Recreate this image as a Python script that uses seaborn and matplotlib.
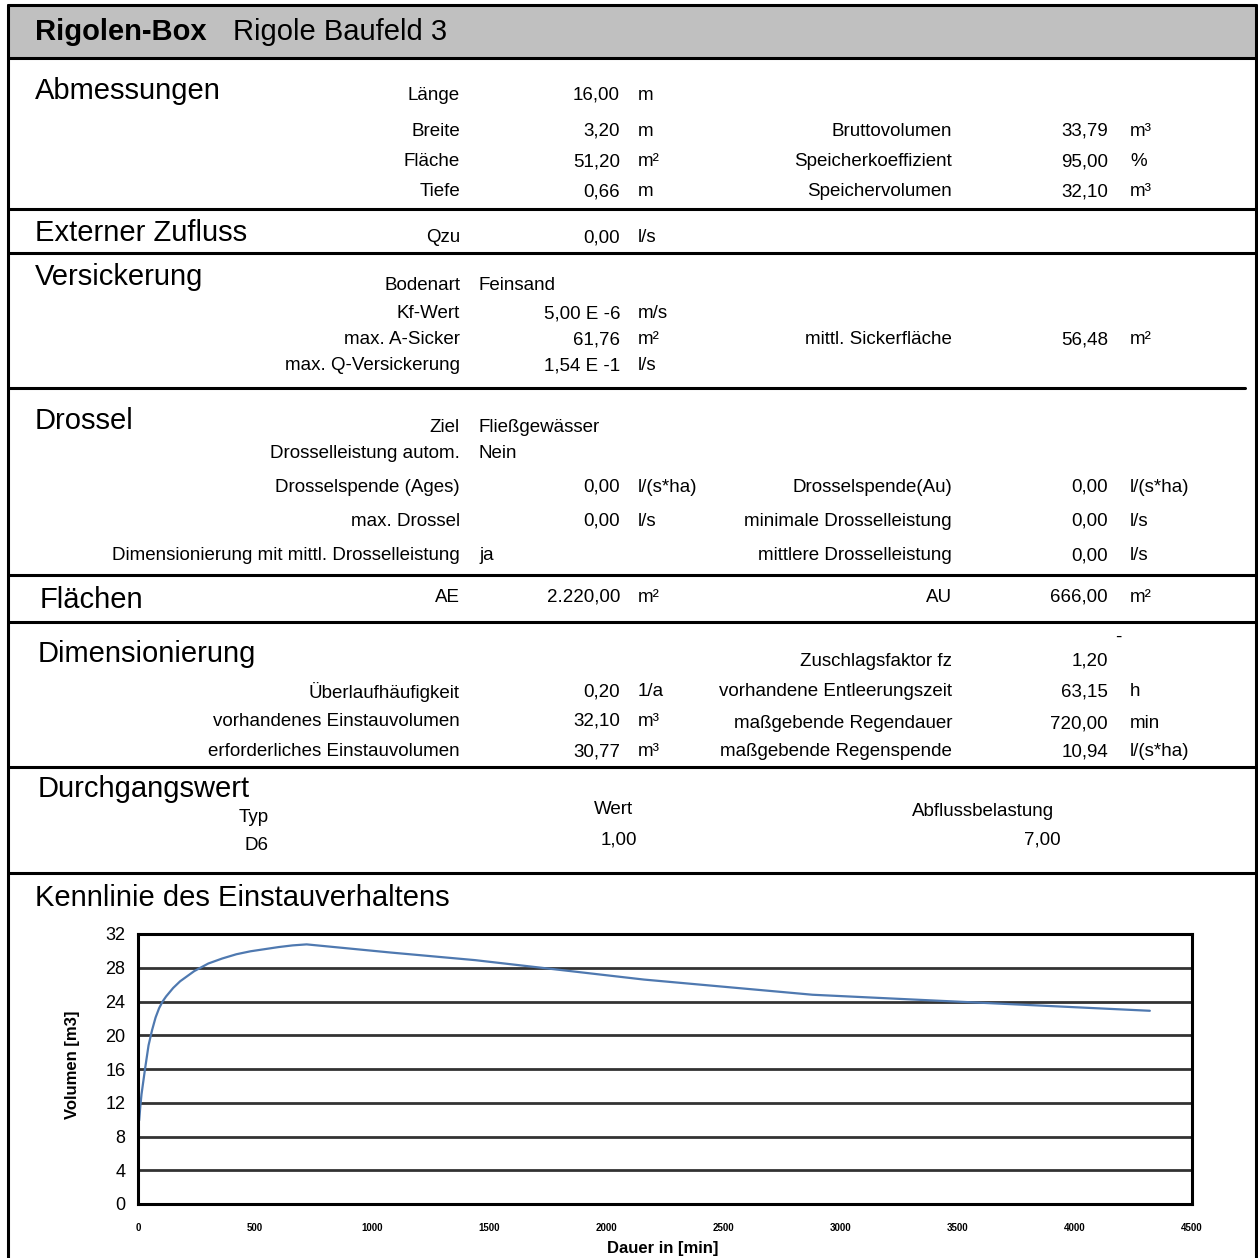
import numpy as np
import matplotlib
matplotlib.use('AGG')
import matplotlib.pyplot as plt
from matplotlib.patches import Rectangle
import seaborn as sns


# ==============================================================================
#                                                                           DATA
# ==============================================================================
# Kennlinie des Einstauverhaltens (Dauer in min, Volumen in m3)
dauer = [5, 10, 15, 20, 30, 45, 60, 75, 90, 105, 120, 150, 180, 240, 300,
         360, 420, 480, 540, 600, 660, 720, 1080, 1440, 2160, 2880, 4320]
volumen = [9.9, 11.6, 13.0, 14.0, 16.0, 18.8, 20.6, 22.1, 23.2, 24.0, 24.6,
           25.6, 26.4, 27.6, 28.5, 29.1, 29.6, 29.95, 30.2, 30.45, 30.65,
           30.77, 29.8, 28.9, 26.6, 24.8, 22.9]
y_ticks = list(range(0, 33, 4))
x_ticks = list(range(0, 4501, 500))

header_bold = "Rigolen-Box"
header_name = "Rigole Baufeld 3"

sections = ["Abmessungen", "Externer Zufluss", "Versickerung", "Drossel",
            "Flächen", "Dimensionierung", "Durchgangswert",
            "Kennlinie des Einstauverhaltens"]

abm_labels = ["Länge", "Breite", "Fläche", "Tiefe"]
abm_values = ["16,00", "3,20", "51,20", "0,66"]
abm_units = ["m", "m", "m²", "m"]
abm_r_labels = ["Bruttovolumen", "Speicherkoeffizient", "Speichervolumen"]
abm_r_values = ["33,79", "95,00", "32,10"]
abm_r_units = ["m³", "%", "m³"]

zu_label, zu_value, zu_unit = "Qzu", "0,00", "l/s"

vs_text_labels = ["Bodenart"]
vs_text_values = ["Feinsand"]
vs_labels = ["Kf-Wert", "max. A-Sicker", "max. Q-Versickerung"]
vs_values = ["5,00 E -6", "61,76", "1,54 E -1"]
vs_units = ["m/s", "m²", "l/s"]
vs_r_label, vs_r_value, vs_r_unit = "mittl. Sickerfläche", "56,48", "m²"

dr_text_labels = ["Ziel", "Drosselleistung autom."]
dr_text_values = ["Fließgewässer", "Nein"]
dr_labels = ["Drosselspende (Ages)", "max. Drossel"]
dr_values = ["0,00", "0,00"]
dr_units = ["l/(s*ha)", "l/s"]
dr_mittl_label, dr_mittl_value = "Dimensionierung mit mittl. Drosselleistung", "ja"
dr_r_labels = ["Drosselspende(Au)", "minimale Drosselleistung",
               "mittlere Drosselleistung"]
dr_r_values = ["0,00", "0,00", "0,00"]
dr_r_units = ["l/(s*ha)", "l/s", "l/s"]

fl_labels = ["AE", "AU"]
fl_values = ["2.220,00", "666,00"]
fl_units = ["m²", "m²"]

dim_labels = ["Überlaufhäufigkeit", "vorhandenes Einstauvolumen",
              "erforderliches Einstauvolumen"]
dim_values = ["0,20", "32,10", "30,77"]
dim_units = ["1/a", "m³", "m³"]
dim_r_labels = ["Zuschlagsfaktor fz", "vorhandene Entleerungszeit",
                "maßgebende Regendauer", "maßgebende Regenspende"]
dim_r_values = ["1,20", "63,15", "720,00", "10,94"]
dim_r_units = ["-", "h", "min", "l/(s*ha)"]

dg_heads = ["Typ", "Wert", "Abflussbelastung"]
dg_values = ["D6", "1,00", "7,00"]


# ==============================================================================
#                                                                         LAYOUT
# ==============================================================================
sns.set_style('white')
plt.rcParams['font.family'] = ['Liberation Sans', 'DejaVu Sans']
plt.rcParams['text.color'] = 'black'
plt.rcParams['xtick.color'] = 'black'
plt.rcParams['ytick.color'] = 'black'

W = H = 1258
fig = plt.figure(figsize=(12.58, 12.58), dpi=100)
bg = fig.add_axes([0, 0, 1, 1])
bg.set_xlim(0, W)
bg.set_ylim(H, 0)
bg.axis('off')

TTL = 21      # section titles
LBL = 13.5    # labels / values
DY = 2        # small downward nudge of the text rows

# Header band and frame
bg.add_patch(Rectangle((8, 5), 1248, 52, fc='#c0c0c0', ec='none'))
bg.plot([8, 8], [5, H], color='black', lw=2.2)
bg.plot([1256, 1256], [5, H], color='black', lw=2.2)
bg.plot([8, 1256], [5, 5], color='black', lw=2.2)
for y in [58, 209, 253, 575, 622, 767, 873]:
    bg.plot([8, 1256], [y, y], color='black', lw=2.2)
bg.plot([8, 1245], [388, 388], color='black', lw=2.2)

bg.text(35, 32, header_bold, fontsize=TTL, fontweight='bold', va='center')
bg.text(233, 32, header_name, fontsize=TTL, va='center')

# Section titles
title_pos = [(35, 91), (35, 233), (35, 277), (35, 421),
             (40, 600), (38, 654), (38, 789), (35, 898)]
for name, (x, y) in zip(sections, title_pos):
    bg.text(x, y, name, fontsize=TTL, va='center')


def row(y, label, value=None, unit=None, side="left"):
    """Draw one label / value / unit row in the left or right column"""
    xl, xv, xu = (460, 620, 638) if side == "left" else (952, 1108, 1130)
    y = y + DY
    bg.text(xl, y, label, fontsize=LBL, ha='right', va='center')
    if value is not None:
        bg.text(xv, y, value, fontsize=LBL, ha='right', va='center')
    if unit is not None:
        bg.text(xu, y, unit, fontsize=LBL, ha='left', va='center')


def text_row(y, label, value):
    """Row where the value is a text written right after the label"""
    y = y + DY
    bg.text(460, y, label, fontsize=LBL, ha='right', va='center')
    bg.text(479, y, value, fontsize=LBL, ha='left', va='center')


# Abmessungen
for y, l, v, u in zip([93, 129, 160, 190], abm_labels, abm_values, abm_units):
    row(y, l, v, u)
for y, l, v, u in zip([129, 160, 190], abm_r_labels, abm_r_values, abm_r_units):
    row(y, l, v, u, side="right")

# Externer Zufluss
row(236, zu_label, zu_value, zu_unit)

# Versickerung
for y, l, v in zip([283], vs_text_labels, vs_text_values):
    text_row(y, l, v)
for y, l, v, u in zip([312, 338, 364], vs_labels, vs_values, vs_units):
    row(y, l, v, u)
row(338, vs_r_label, vs_r_value, vs_r_unit, side="right")

# Drossel
for y, l, v in zip([425, 452], dr_text_labels, dr_text_values):
    text_row(y, l, v)
for y, l, v, u in zip([485, 519], dr_labels, dr_values, dr_units):
    row(y, l, v, u)
text_row(554, dr_mittl_label, dr_mittl_value)
for y, l, v, u in zip([485, 519, 554], dr_r_labels, dr_r_values, dr_r_units):
    row(y, l, v, u, side="right")

# Flaechen
row(595, fl_labels[0], fl_values[0], fl_units[0])
row(595, fl_labels[1], fl_values[1], fl_units[1], side="right")

# Dimensionierung
for y, l, v, u in zip([690, 719, 750], dim_labels, dim_values, dim_units):
    row(y, l, v, u)
row(659, dim_r_labels[0], dim_r_values[0], side="right")
bg.text(1118, 637, dim_r_units[0], fontsize=LBL, ha='center', va='center')
for y, l, v, u in zip([690, 722, 750], dim_r_labels[1:], dim_r_values[1:],
                      dim_r_units[1:]):
    row(y, l, v, u, side="right")

# Durchgangswert
for x, y, t in zip([254, 613, 983], [818, 810, 812], dg_heads):
    bg.text(x, y, t, fontsize=LBL, ha='center', va='center')
bg.text(257, 845, dg_values[0], fontsize=LBL, ha='center', va='center')
bg.text(619, 840, dg_values[1], fontsize=LBL, ha='center', va='center')
bg.text(1061, 840, dg_values[2], fontsize=LBL, ha='right', va='center')


# ==============================================================================
#                                                                          CHART
# ==============================================================================
left, right, top, bottom = 138, 1192, 934, 1204
ax = fig.add_axes([left / W, (H - bottom) / H, (right - left) / W, (bottom - top) / H])
sns.lineplot(x=dauer, y=volumen, ax=ax, color='#4f79b0', lw=1.6)
ax.set_xlim(0, 4500)
ax.set_ylim(0, 32)
ax.set_xticks(x_ticks)
ax.set_yticks(y_ticks)
ax.set_axisbelow(True)
ax.yaxis.grid(True, color='#333333', lw=2)
ax.xaxis.grid(False)
for s in ax.spines.values():
    s.set_color('black')
    s.set_linewidth(2.2)
ax.tick_params(axis='y', length=0, labelsize=13, pad=9)
ax.tick_params(axis='x', length=0, labelsize=7, pad=14)
for lbl in ax.get_xticklabels():
    lbl.set_fontweight('bold')
ax.set_xlabel("")
ax.set_ylabel("")

bg.text(663, 1248, "Dauer in [min]", fontsize=12, fontweight='bold',
        ha='center', va='center')
bg.text(72, 1065, "Volumen [m3]", fontsize=12, fontweight='bold',
        ha='center', va='center', rotation=90)

fig.savefig("out.png", dpi=100)
plt.close()
